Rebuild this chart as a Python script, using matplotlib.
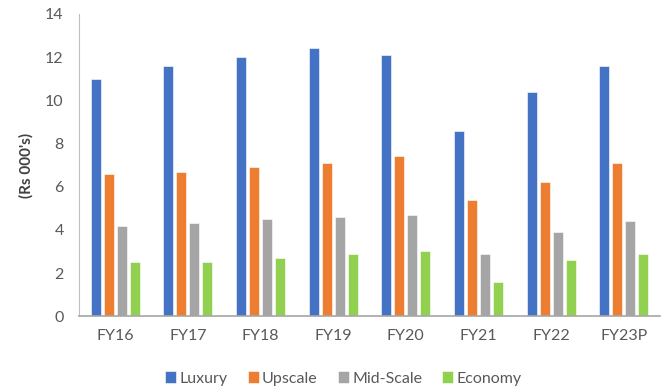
import matplotlib.pyplot as plt
import numpy as np

plt.rcParams["font.family"] = ["Lato", "DejaVu Sans"]

# 数据
years = ["FY16", "FY17", "FY18", "FY19", "FY20", "FY21", "FY22", "FY23P"]
luxury = [11.0, 11.6, 12.0, 12.4, 12.1, 8.6, 10.4, 11.6]
upscale = [6.6, 6.7, 6.9, 7.1, 7.4, 5.4, 6.2, 7.1]
mid_scale = [4.2, 4.3, 4.5, 4.6, 4.7, 2.9, 3.9, 4.4]
economy = [2.5, 2.5, 2.7, 2.9, 3.0, 1.6, 2.6, 2.9]

series = [
    ("Luxury", luxury, "#4472C4"),
    ("Upscale", upscale, "#ED7D31"),
    ("Mid-Scale", mid_scale, "#A5A5A5"),
    ("Economy", economy, "#92D050"),
]

fig = plt.figure(figsize=(6.7, 3.87), dpi=100)
ax = fig.add_axes([0.118, 0.183, 0.867, 0.781])

x = np.arange(len(years))
pitch = 0.179
width = 0.138
for i, (name, vals, color) in enumerate(series):
    ax.bar(x + (i - 1.5) * pitch, vals, width, color=color, label=name,
           edgecolor="white", linewidth=0.4)

ax.set_xlim(-0.5, len(years) - 0.5)
ax.set_ylim(0, 14)
ax.set_yticks(range(0, 15, 2))
ax.set_xticks(x)
ax.set_xticklabels(years)
ax.tick_params(axis="both", length=0, labelsize=11.5, colors="#595959")
ax.tick_params(axis="x", pad=9)
ax.tick_params(axis="y", pad=11)

for side in ["top", "right"]:
    ax.spines[side].set_visible(False)
ax.spines["left"].set_color("#BFBFBF")
ax.spines["bottom"].set_color("#A6A6A6")
ax.spines["bottom"].set_linewidth(1.2)

ax.set_ylabel("(Rs 000's)", fontsize=11, fontweight="bold", color="#404040", labelpad=8)

ax.legend(loc="upper center", bbox_to_anchor=(0.455, -0.135), ncol=4, frameon=False,
          fontsize=11.5, handlelength=0.7, handleheight=0.7, handletextpad=0.2,
          columnspacing=1.25, labelcolor="#595959")

fig.savefig("out.png", dpi=100)
